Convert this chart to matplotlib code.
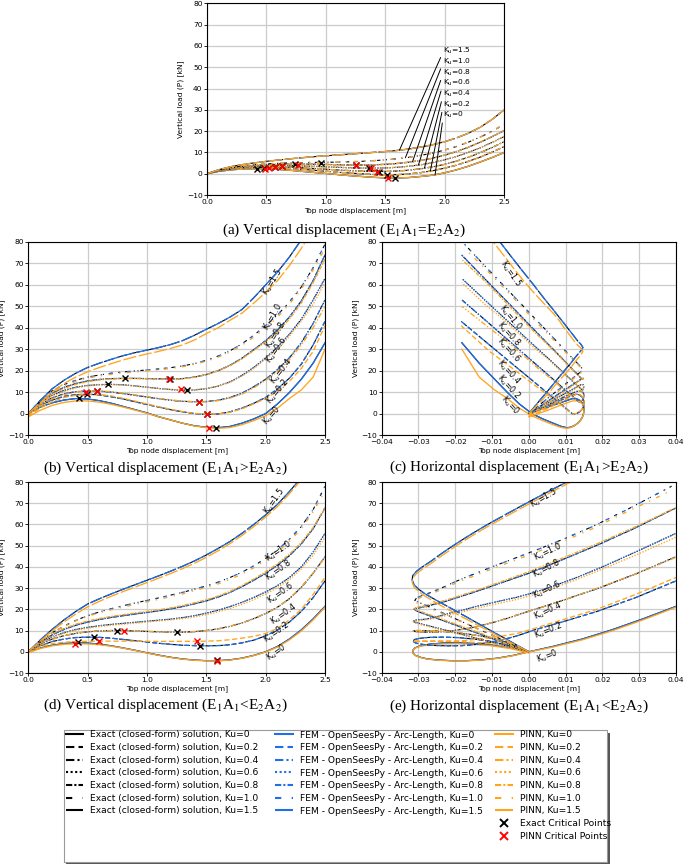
import numpy as np
import matplotlib
matplotlib.use('Agg')
import matplotlib.pyplot as plt
from matplotlib.lines import Line2D
from matplotlib.patches import Rectangle

# ------------------------------------------------------------------ data
ku_labels = ['0', '0.2', '0.4', '0.6', '0.8', '1.0', '1.5']

disp_v = [0.0, 0.1, 0.2, 0.3, 0.4, 0.5, 0.6, 0.7, 0.8, 0.9, 1.0, 1.1, 1.2,
          1.3, 1.4, 1.5, 1.6, 1.7, 1.8, 1.9, 2.0, 2.1, 2.2, 2.3, 2.4, 2.5]

# (a) E1A1 = E2A2, vertical displacement vs load
a_k0 = [0, 1.1, 1.8, 2.2, 2.35, 2.3, 2.0, 1.6, 1.1, 0.6, 0.1, -0.4, -0.9, -1.3, -1.7, -1.95, -2.0, -1.8, -1.3, -0.7, 0.4, 1.8, 3.5, 5.5, 7.6, 9.9]
a_k02 = [0, 1.3, 2.1, 2.6, 2.85, 2.9, 2.75, 2.45, 2.05, 1.6, 1.15, 0.7, 0.3, -0.05, -0.35, -0.5, -0.45, -0.1, 0.5, 1.4, 2.6, 4.0, 5.8, 7.8, 10.1, 12.7]
a_k04 = [0, 1.4, 2.3, 2.9, 3.2, 3.35, 3.3, 3.1, 2.8, 2.45, 2.1, 1.75, 1.45, 1.2, 1.05, 1.05, 1.25, 1.65, 2.3, 3.2, 4.4, 5.9, 7.7, 9.9, 12.3, 15.0]
a_k06 = [0, 1.5, 2.5, 3.1, 3.5, 3.75, 3.85, 3.8, 3.65, 3.45, 3.2, 3.0, 2.8, 2.65, 2.6, 2.7, 3.0, 3.5, 4.2, 5.2, 6.5, 8.1, 10.0, 12.2, 14.7, 17.4]
a_k08 = [0, 1.6, 2.7, 3.4, 3.9, 4.2, 4.4, 4.5, 4.5, 4.45, 4.35, 4.2, 4.1, 4.05, 4.15, 4.4, 4.8, 5.4, 6.2, 7.3, 8.7, 10.4, 12.4, 14.8, 17.4, 20.2]
a_k10 = [0, 1.7, 2.9, 3.7, 4.2, 4.6, 4.9, 5.1, 5.2, 5.3, 5.35, 5.45, 5.6, 5.8, 6.1, 6.5, 7.0, 7.7, 8.6, 9.7, 11.1, 12.8, 14.8, 17.2, 19.9, 23.2]
a_k15 = [0, 1.9, 3.3, 4.3, 5.1, 5.8, 6.4, 7.0, 7.5, 8.0, 8.4, 8.8, 9.2, 9.6, 10.0, 10.4, 10.9, 11.6, 12.5, 13.6, 15.0, 16.8, 19.0, 21.8, 25.5, 29.9]
a_crit_exact_x = [0.423, 0.483, 0.57, 0.634, 0.74, 0.957, 1.254, 1.36, 1.45, 1.515, 1.58]
a_crit_exact_y = [2.1, 2.5, 3.3, 3.8, 4.4, 5.2, 4.1, 2.5, 1.0, -0.6, -2.2]
a_crit_pinn_x = [0.49, 0.524, 0.572, 0.634, 0.763, 1.254, 1.38, 1.428, 1.526]
a_crit_pinn_y = [2.3, 2.8, 3.3, 3.8, 4.2, 4.1, 2.5, 0.95, -1.9]
a_annot_x = [1.92, 1.88, 1.83, 1.78, 1.73, 1.67, 1.62]
a_annot_label_y = [27.5, 32.5, 37.5, 42.5, 47.5, 52.5, 57.5]

# (b) E1A1 > E2A2, vertical displacement
b_k0 = [0, 3, 5, 6.3, 7, 6.8, 6, 4.8, 3.3, 1.8, 0.3, -1.5, -3, -4.5, -5.7, -6.4, -6.6, -6, -4.5, -2.5, 0, 4.5, 9.8, 16, 23.5, 33]
b_k02 = [0, 3.8, 6.3, 8, 8.8, 9, 8.7, 7.8, 6.8, 5.5, 4.2, 3, 1.8, 0.8, 0, -0.4, -0.2, 0.8, 2.5, 4.8, 7.5, 11.5, 16.5, 23, 32, 43]
b_k04 = [0, 4.3, 7.3, 9.2, 10.2, 10.5, 10.5, 10, 9.3, 8.5, 7.7, 6.9, 6.2, 5.7, 5.5, 5.6, 6.2, 7.5, 9.5, 12.5, 16, 20.5, 26, 33, 42, 53]
b_k06 = [0, 5, 8.5, 10.8, 12.3, 13.1, 13.5, 13.6, 13.4, 12.9, 12.3, 11.7, 11.2, 10.9, 11, 11.6, 12.8, 14.8, 17.8, 21.5, 26, 31, 37, 44, 53, 63]
b_k08 = [0, 5.5, 9.5, 12.2, 14, 15.2, 15.9, 16.3, 16.4, 16.4, 16.3, 16.2, 16.1, 16.3, 17, 18.2, 20, 22.5, 25.8, 29.8, 34, 39, 45, 52.5, 62, 74]
b_k10 = [0, 6, 10.5, 13.5, 15.5, 17, 18, 18.8, 19.4, 19.9, 20.3, 20.8, 21.4, 22.2, 23.3, 24.8, 26.8, 29.3, 32.5, 36.5, 41, 46, 52, 59, 68, 79]
b_k15 = [0, 6, 11.5, 15.5, 18.8, 21.5, 23.5, 25.3, 27, 28.4, 29.6, 30.8, 32.2, 34, 36.5, 39.3, 42, 45, 48.5, 54, 60, 66, 73, 81, 90, 100]
b_pinn_k0 = [-1.5, 1.5, 3.8, 5.2, 5.9, 5.9, 5.3, 4.3, 3, 1.6, 0.1, -1.5, -3, -4.5, -5.8, -6.6, -6.9, -6.5, -5.2, -3.3, -1, 2.5, 7, 11, 17, 30]
b_pinn_k02 = [-1.5, 2.5, 5.5, 7.5, 8.5, 9, 8.9, 8.2, 7.1, 5.8, 4.5, 3.2, 2, 0.9, 0.1, -0.3, -0.2, 0.6, 2.2, 4.5, 7, 10.5, 15, 21, 29, 41]
b_pinn_k04 = [-1.2, 3.5, 6.8, 8.8, 10, 10.5, 10.6, 10.2, 9.5, 8.7, 7.9, 7.1, 6.4, 5.8, 5.5, 5.5, 6, 7.2, 9, 12, 15.5, 19.5, 25, 32, 40, 50]
b_pinn_k06 = [-1, 4, 7.8, 10.2, 11.9, 12.9, 13.4, 13.5, 13.3, 12.8, 12.2, 11.6, 11.2, 11, 11.1, 11.7, 12.8, 14.6, 17.4, 21, 25.5, 30, 36, 43, 51, 61]
b_pinn_k08 = [-0.8, 4.5, 8.8, 11.7, 13.6, 14.9, 15.7, 16.1, 16.3, 16.3, 16.2, 16.1, 16, 16.2, 16.9, 18.1, 19.9, 22.3, 25.5, 29.4, 33.5, 38, 44, 51.5, 61, 72]
b_pinn_k10 = [-0.5, 5, 9.8, 12.9, 15, 16.5, 17.5, 18.3, 18.9, 19.4, 19.9, 20.4, 21, 21.8, 22.9, 24.4, 26.3, 28.7, 31.8, 35.6, 40, 45, 51, 58, 67, 77]
b_pinn_k15 = [0, 5, 10, 14, 17, 19.5, 21.5, 23.3, 25, 26.5, 27.8, 29, 30.4, 32, 34.3, 37.3, 40, 43.5, 46.8, 51.5, 56.5, 62, 69, 77, 86, 96]
b_crit_exact_x = [0.427, 0.497, 0.576, 0.669, 0.815, 1.19, 1.334, 1.435, 1.508, 1.581]
b_crit_exact_y = [7.1, 8.9, 10.5, 13.6, 16.4, 16.1, 10.9, 5.5, -0.4, -6.6]
b_crit_pinn_x = [0.486, 0.576, 1.185, 1.287, 1.435, 1.508, 1.525]
b_crit_pinn_y = [10.2, 10.5, 16.1, 11.4, 5.5, -0.2, -6.6]

# (c) E1A1 > E2A2, horizontal displacement (same load path as (b))
c_u_k0 = [0, 0.0051, 0.0085, 0.0107, 0.0119, 0.0131, 0.0140, 0.0146, 0.0149, 0.0150, 0.0149, 0.0146, 0.0141, 0.0133, 0.0123, 0.0113, 0.0103, 0.0088, 0.0066, 0.0038, 0.0008, -0.0026, -0.0058, -0.0093, -0.0135, -0.0182]
c_u_k02 = [0, 0.0053, 0.0088, 0.0111, 0.0122, 0.0130, 0.0138, 0.0144, 0.0148, 0.0150, 0.0150, 0.0148, 0.0144, 0.0138, 0.0130, 0.0120, 0.0119, 0.0112, 0.0100, 0.0084, 0.0065, 0.0037, 0.0002, -0.0044, -0.0107, -0.0184]
c_u_k04 = [0, 0.0054, 0.0091, 0.0115, 0.0128, 0.0135, 0.0141, 0.0146, 0.0149, 0.0150, 0.0150, 0.0148, 0.0145, 0.0141, 0.0136, 0.0135, 0.0131, 0.0123, 0.0109, 0.0089, 0.0066, 0.0036, -0.0001, -0.0048, -0.0108, -0.0182]
c_u_k06 = [0, 0.0053, 0.0089, 0.0114, 0.0129, 0.0138, 0.0142, 0.0145, 0.0148, 0.0149, 0.0149, 0.0148, 0.0147, 0.0146, 0.0145, 0.0141, 0.0134, 0.0121, 0.0102, 0.0079, 0.0051, 0.0019, -0.0019, -0.0063, -0.0120, -0.0182]
c_u_k08 = [0, 0.0049, 0.0084, 0.0108, 0.0124, 0.0135, 0.0141, 0.0145, 0.0147, 0.0148, 0.0148, 0.0147, 0.0146, 0.0143, 0.0139, 0.0133, 0.0122, 0.0108, 0.0090, 0.0067, 0.0043, 0.0015, -0.0019, -0.0061, -0.0115, -0.0183]
c_u_k10 = [0, 0.0043, 0.0076, 0.0098, 0.0112, 0.0123, 0.0130, 0.0136, 0.0141, 0.0144, 0.0146, 0.0146, 0.0143, 0.0139, 0.0133, 0.0124, 0.0113, 0.0099, 0.0082, 0.0060, 0.0035, 0.0007, -0.0026, -0.0065, -0.0115, -0.0175]
c_u_k15 = [0, 0.0029, 0.0056, 0.0075, 0.0091, 0.0104, 0.0114, 0.0122, 0.0130, 0.0137, 0.0143, 0.0147, 0.0142, 0.0132, 0.0121, 0.0108, 0.0096, 0.0082, 0.0066, 0.0040, 0.0013, -0.0015, -0.0047, -0.0083, -0.0124, -0.0170]

# (d) E1A1 < E2A2, vertical displacement
d_k0 = [0, 1.8, 3.1, 3.9, 4.3, 4.1, 3.6, 2.8, 1.8, 0.7, -0.5, -1.6, -2.6, -3.4, -3.9, -4.2, -4.2, -3.8, -3.0, -1.7, 0, 2.5, 6, 10.3, 15.5, 21.4]
d_k02 = [0, 2.8, 4.8, 6, 6.7, 6.9, 6.8, 6.4, 5.8, 5.2, 4.6, 4, 3.5, 3.1, 2.9, 2.8, 2.9, 3.3, 4.2, 5.5, 7.5, 10.3, 14, 19, 25.5, 33.4]
d_k04 = [0, 3.5, 6, 7.6, 8.7, 9.4, 9.8, 10, 10, 9.8, 9.6, 9.4, 9.25, 9.25, 9.5, 10, 10.8, 12, 13.6, 15.6, 18, 21, 25, 30.3, 37, 44.8]
d_k06 = [0, 4, 7, 9, 10.5, 11.5, 12.3, 12.9, 13.4, 13.9, 14.4, 14.9, 15.4, 16.1, 17, 18.2, 19.6, 21.3, 23.3, 25.6, 28.2, 31.2, 35, 40, 47, 55.8]
d_k08 = [0, 4.5, 8, 10.5, 12.5, 14, 15.2, 16.2, 17, 17.8, 18.5, 19.3, 20.2, 21.3, 22.6, 24, 25.8, 28, 30.7, 33.7, 37, 40.8, 45.3, 50.8, 58, 67.8]
d_k10 = [0, 5, 9, 12, 14.8, 17, 18.8, 20.3, 21.7, 23, 24.2, 25.4, 26.7, 28, 29.5, 31, 32.8, 35, 37.5, 40.5, 44, 48, 53, 59, 67, 78]
d_k15 = [0, 5.5, 10.5, 15, 19, 22.5, 25, 27.3, 29.5, 31.6, 33.7, 35.8, 38, 40.3, 42.8, 45.6, 48.7, 52, 55.8, 60, 64.5, 69.5, 75.5, 82, 89, 97]
d_pinn_k0 = [-0.5, 1.5, 2.8, 3.5, 3.8, 3.7, 3.3, 2.6, 1.7, 0.6, -0.6, -1.7, -2.7, -3.5, -4.0, -4.3, -4.3, -3.9, -3.1, -1.8, -0.1, 2.2, 5.6, 9.8, 15, 21]
d_pinn_k02 = [-0.5, 2.3, 3.8, 4.5, 4.8, 4.95, 5, 5, 5, 5, 4.95, 4.9, 4.9, 4.9, 4.95, 5, 5.2, 5.7, 6.4, 7.3, 8.6, 11, 15, 20, 27, 35]
d_pinn_k04 = [-0.5, 3, 5.8, 7.6, 8.8, 9.5, 9.9, 10, 10, 9.8, 9.6, 9.4, 9.3, 9.3, 9.5, 10, 10.8, 12, 13.6, 15.6, 18, 21, 25, 30.5, 37, 44.5]
d_pinn_k06 = [-0.3, 3.8, 6.8, 8.7, 10.1, 11.1, 11.9, 12.5, 13, 13.5, 14, 14.5, 15, 15.6, 16.4, 17.5, 18.8, 20.4, 22.3, 24.6, 27.2, 30.3, 34, 39, 45.5, 54]
d_pinn_k08 = [-0.2, 4.5, 8.5, 11, 13, 14.5, 15.7, 16.7, 17.5, 18.3, 19, 19.8, 20.7, 21.8, 23.1, 24.5, 26.3, 28.5, 31.2, 34.3, 37.7, 41.5, 46, 51.5, 58.5, 68]
d_pinn_k10 = [0, 5, 9, 12, 14.6, 16.7, 18.4, 19.8, 21.1, 22.3, 23.5, 24.7, 26, 27.3, 28.8, 30.3, 32, 34.1, 36.6, 39.6, 43, 47, 52, 58, 66, 76]
d_pinn_k15 = [0, 5, 9.8, 14, 17.8, 21.2, 23.8, 26.2, 28.4, 30.5, 32.6, 34.7, 36.9, 39.2, 41.7, 44.5, 47.6, 51, 54.8, 59, 63.5, 68.5, 74.5, 81, 88, 96]
d_crit_exact_x = [0.42, 0.553, 0.75, 1.256, 1.45, 1.587]
d_crit_exact_y = [4.5, 6.9, 10.0, 9.2, 2.8, -4.1]
d_crit_pinn_x = [0.393, 0.593, 0.809, 1.42, 1.587]
d_crit_pinn_y = [3.75, 5.0, 9.7, 5.0, -4.2]

# (e) E1A1 < E2A2, horizontal displacement (same load path as (d))
e_u_k0 = [0, -0.005, -0.010, -0.015, -0.0195, -0.0235, -0.027, -0.0295, -0.031, -0.0315, -0.0315, -0.031, -0.0295, -0.0275, -0.0245, -0.021, -0.017, -0.0128, -0.0085, -0.0042, 0.0, 0.0065, 0.0145, 0.0225, 0.031, 0.04]
e_u_k02 = [0, -0.005, -0.010, -0.015, -0.0195, -0.0235, -0.027, -0.0295, -0.031, -0.0315, -0.0313, -0.0305, -0.029, -0.027, -0.0245, -0.0215, -0.0183, -0.015, -0.0115, -0.0075, -0.0032, 0.0015, 0.009, 0.0185, 0.029, 0.04]
e_u_k04 = [0, -0.0045, -0.009, -0.0135, -0.018, -0.022, -0.0255, -0.0285, -0.0305, -0.0314, -0.0312, -0.0302, -0.0285, -0.0262, -0.0235, -0.0205, -0.0172, -0.0138, -0.0102, -0.0062, -0.002, 0.0035, 0.0105, 0.0195, 0.0295, 0.04]
e_u_k06 = [0, -0.0089, -0.0156, -0.020, -0.0233, -0.0256, -0.0273, -0.0287, -0.0298, -0.0309, -0.0314, -0.0308, -0.028, -0.026, -0.024, -0.0215, -0.018, -0.0145, -0.0095, -0.0035, 0.002, 0.007, 0.013, 0.020, 0.029, 0.04]
e_u_k08 = [0, -0.0071, -0.0127, -0.0167, -0.0198, -0.0222, -0.0241, -0.0257, -0.027, -0.0283, -0.0294, -0.0306, -0.0312, -0.0282, -0.0252, -0.0222, -0.019, -0.015, -0.0105, -0.0055, 0.0, 0.0055, 0.0118, 0.0193, 0.0285, 0.04]
e_u_k10 = [0, -0.0064, -0.0115, -0.0154, -0.019, -0.0218, -0.0241, -0.026, -0.0278, -0.0295, -0.031, -0.0305, -0.0288, -0.0265, -0.0245, -0.0225, -0.0203, -0.0173, -0.0136, -0.0093, -0.0039, 0.0021, 0.0093, 0.0173, 0.0267, 0.0388]
e_u_k15 = [0, -0.0057, -0.0109, -0.0155, -0.0196, -0.0233, -0.0259, -0.0282, -0.030, -0.0312, -0.0317, -0.0316, -0.0305, -0.0287, -0.0265, -0.0243, -0.0217, -0.0188, -0.0153, -0.0112, -0.0065, -0.0012, 0.0053, 0.0125, 0.0205, 0.029]

# in-line curve label placements (x, y, rotation)
b_lab = [(2.05, -0.7, 48), (2.10, 10.2, 50), (2.13, 19.5, 52), (2.09, 29.6, 55), (2.09, 36.5, 57), (2.06, 45, 60), (2.06, 61.4, 58)]
c_lab = [(-0.005, 3.9, -48), (-0.0055, 12.5, -48), (-0.0055, 19.5, -48), (-0.0055, 29.6, -48), (-0.0055, 37.3, -48), (-0.005, 45, -50), (-0.005, 65.3, -55)]
d_lab = [(2.09, -0.5, 35), (2.09, 8.9, 35), (2.15, 17.5, 35), (2.13, 27.7, 35), (2.11, 38.6, 35), (2.11, 47.2, 35), (2.07, 71.0, 55)]
e_lab = [(0.0049, -2, 20), (0.0053, 10, 22), (0.0053, 19.4, 25), (0.0049, 29.2, 25), (0.0049, 39, 27), (0.0053, 47.2, 25), (0.004, 72.5, 30)]

# ------------------------------------------------------------------ style
W, H = 685, 864
BLUE = '#1f6fe8'
ORANGE = '#ffa41b'
STYLES = ['-', (0, (4, 2)), (0, (4, 1.5, 1, 1.5, 1, 1.5)), (0, (1, 1.2)),
          (0, (3, 1, 1, 1)), (0, (3, 5, 1, 5)), (0, (10, 2))]
FS = 5.4

fig = plt.figure(figsize=(W / 100, H / 100), dpi=100)


def make_ax(l, t, r, b):
    return fig.add_axes([l / W, 1 - b / H, (r - l) / W, (b - t) / H])


def style_ax(ax, horizontal):
    if horizontal:
        ax.set_xlim(-0.04, 0.04)
        ax.set_xticks(np.arange(-0.04, 0.0401, 0.01))
    else:
        ax.set_xlim(0, 2.5)
        ax.set_xticks([0, 0.5, 1.0, 1.5, 2.0, 2.5])
    ax.set_ylim(-10, 80)
    ax.set_yticks(range(-10, 81, 10))
    ax.grid(True, color='#cccccc', lw=0.9)
    ax.set_axisbelow(True)
    ax.tick_params(labelsize=FS, length=2, width=0.6, pad=1.2)
    for s in ax.spines.values():
        s.set_linewidth(0.8)
    ax.set_xlabel('Top node displacement [m]', fontsize=FS, labelpad=1.0)
    ax.set_ylabel('Vertical load (P) [kN]', fontsize=FS, labelpad=2)


def draw_family(ax, xs, exact, pinn):
    for i in range(7):
        ax.plot(xs[i], exact[i], color='black', ls=STYLES[i], lw=0.8)
        ax.plot(xs[i], exact[i], color=BLUE, ls=STYLES[i], lw=0.95)
        ax.plot(xs[i], pinn[i], color=ORANGE, ls=STYLES[i], lw=0.95)


def draw_labels(ax, labs):
    for (x, y, r), k in zip(labs, ku_labels):
        ax.text(x, y, r'K$_{\mathregular{u}}$=' + k, fontsize=5.8, rotation=r,
                rotation_mode='anchor', ha='center', va='center')


def draw_crit(ax, ex, ey, px, py):
    ax.plot(ex, ey, ls='none', marker='x', color='black', ms=4, mew=1.0)
    ax.plot(px, py, ls='none', marker='x', color='red', ms=4, mew=1.0)


def caption(xc, yc, s):
    fig.text(xc / W, 1 - yc / H, s, ha='center', va='center', fontsize=11,
             family='Liberation Serif', math_fontfamily='stix')


# (a)
a_exact = [a_k0, a_k02, a_k04, a_k06, a_k08, a_k10, a_k15]
ax_a = make_ax(207, 3.3, 504, 195)
style_ax(ax_a, False)
draw_family(ax_a, [disp_v] * 7, a_exact, a_exact)
draw_crit(ax_a, a_crit_exact_x, a_crit_exact_y, a_crit_pinn_x, a_crit_pinn_y)
for i in range(7):
    xe = a_annot_x[i]
    ye = float(np.interp(xe, disp_v, a_exact[i]))
    ax_a.annotate(r'K$_{\mathregular{u}}$=' + ku_labels[i], xy=(xe, ye),
                  xytext=(1.99, a_annot_label_y[i]), fontsize=5.4,
                  ha='left', va='center',
                  arrowprops=dict(arrowstyle='-', color='black', lw=0.7,
                                  shrinkA=0, shrinkB=0, relpos=(0, 0.5)))
caption(344, 230, '(a) Vertical displacement (E$_1$A$_1$=E$_2$A$_2$)')

# (b)
b_exact = [b_k0, b_k02, b_k04, b_k06, b_k08, b_k10, b_k15]
b_pinn = [b_pinn_k0, b_pinn_k02, b_pinn_k04, b_pinn_k06, b_pinn_k08, b_pinn_k10, b_pinn_k15]
ax_b = make_ax(28.3, 242, 325, 435)
style_ax(ax_b, False)
draw_family(ax_b, [disp_v] * 7, b_exact, b_pinn)
draw_crit(ax_b, b_crit_exact_x, b_crit_exact_y, b_crit_pinn_x, b_crit_pinn_y)
draw_labels(ax_b, b_lab)
caption(165, 468, '(b) Vertical displacement (E$_1$A$_1$>E$_2$A$_2$)')

# (c)
c_u = [c_u_k0, c_u_k02, c_u_k04, c_u_k06, c_u_k08, c_u_k10, c_u_k15]
ax_c = make_ax(381.7, 242, 676, 435)
style_ax(ax_c, True)
draw_family(ax_c, c_u, b_exact, b_pinn)
draw_labels(ax_c, c_lab)
caption(519, 467, '(c) Horizontal displacement (E$_1$A$_1$>E$_2$A$_2$)')

# (d)
d_exact = [d_k0, d_k02, d_k04, d_k06, d_k08, d_k10, d_k15]
d_pinn = [d_pinn_k0, d_pinn_k02, d_pinn_k04, d_pinn_k06, d_pinn_k08, d_pinn_k10, d_pinn_k15]
ax_d = make_ax(28.3, 482, 325, 673)
style_ax(ax_d, False)
draw_family(ax_d, [disp_v] * 7, d_exact, d_pinn)
draw_crit(ax_d, d_crit_exact_x, d_crit_exact_y, d_crit_pinn_x, d_crit_pinn_y)
draw_labels(ax_d, d_lab)
caption(165, 705, '(d) Vertical displacement (E$_1$A$_1$<E$_2$A$_2$)')

# (e)
e_u = [e_u_k0, e_u_k02, e_u_k04, e_u_k06, e_u_k08, e_u_k10, e_u_k15]
ax_e = make_ax(381.7, 482, 676, 673)
style_ax(ax_e, True)
draw_family(ax_e, e_u, d_exact, d_pinn)
draw_labels(ax_e, e_lab)
caption(519, 706, '(e) Horizontal displacement (E$_1$A$_1$<E$_2$A$_2$)')

# ------------------------------------------------------------------ legend
bx0, by0, bx1, by1 = 63.5, 730, 607, 861.5
fig.patches.append(Rectangle(((bx0 + 2.5) / W, 1 - (by1 + 2.5) / H), (bx1 - bx0) / W, (by1 - by0) / H,
                             transform=fig.transFigure, facecolor='#555555',
                             edgecolor='none', zorder=0))
fig.patches.append(Rectangle((bx0 / W, 1 - by1 / H), (bx1 - bx0) / W, (by1 - by0) / H,
                             transform=fig.transFigure, facecolor='white',
                             edgecolor='#9a9a9a', lw=0.8, zorder=1))


def legend_col(handles, labels, x0, y0):
    leg = fig.legend(handles, labels, loc='upper left',
                     bbox_to_anchor=(x0 / W, 1 - y0 / H), frameon=False,
                     fontsize=6.6, handlelength=1.92, handletextpad=0.8,
                     labelspacing=0.40, borderpad=0, borderaxespad=0)
    leg.set_zorder(5)


h1 = [Line2D([], [], color='black', ls=STYLES[i], lw=1.5) for i in range(7)]
l1 = ['Exact (closed-form) solution, Ku=' + k for k in ku_labels]
h2 = [Line2D([], [], color=BLUE, ls=STYLES[i], lw=1.5) for i in range(7)]
l2 = ['FEM - OpenSeesPy - Arc-Length, Ku=' + k for k in ku_labels]
h3 = [Line2D([], [], color=ORANGE, ls=STYLES[i], lw=1.5) for i in range(7)]
h3 += [Line2D([], [], ls='none', marker='x', color='black', ms=6, mew=1.4),
       Line2D([], [], ls='none', marker='x', color='red', ms=6, mew=1.4)]
l3 = ['PINN, Ku=' + k for k in ku_labels] + ['Exact Critical Points', 'PINN Critical Points']
legend_col(h1, l1, 65.5, 730.5)
legend_col(h2, l2, 275, 730.5)
legend_col(h3, l3, 495, 730.5)

fig.savefig('out.png', dpi=100)
